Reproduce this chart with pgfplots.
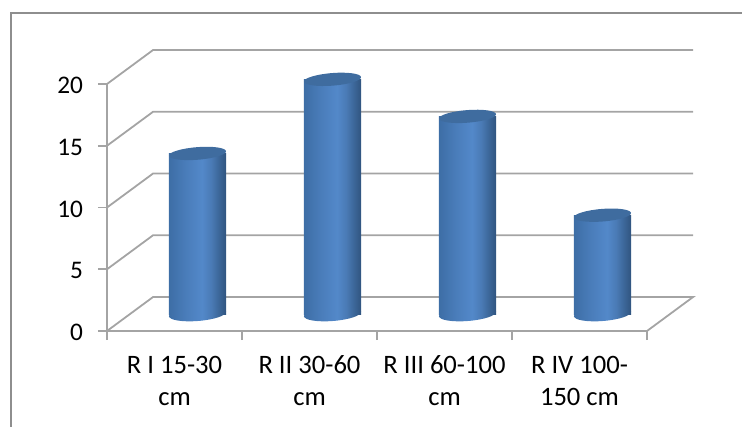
\documentclass[border=0pt]{standalone}
\usepackage{fontspec}
\setmainfont{Carlito}
\usepackage{pgfplots}
\pgfplotsset{compat=1.18}

\definecolor{gridgray}{HTML}{A4A4A4}
\definecolor{framegray}{HTML}{8E8E8E}
\definecolor{captop}{HTML}{3F6C9F}

% cylinder side: dark at both edges, light a bit right of the middle
\pgfdeclarehorizontalshading{cylside}{100bp}{
  rgb(0bp)=(0.24,0.43,0.65);
  rgb(25bp)=(0.24,0.43,0.65);
  rgb(40bp)=(0.29,0.49,0.73);
  rgb(54bp)=(0.325,0.535,0.79);
  rgb(62bp)=(0.29,0.48,0.71);
  rgb(68bp)=(0.24,0.41,0.61);
  rgb(75bp)=(0.19,0.33,0.50);
  rgb(100bp)=(0.19,0.33,0.50)}

\pgfdeclareplotmark{capbottom}{%
  \pgftransformrotate{4.5}%
  \pgfpathellipse{\pgfpointorigin}{\pgfqpoint{28.6bp}{0pt}}{\pgfqpoint{0pt}{7bp}}%
  \pgfshadepath{cylside}{0}%
  \pgfusepath{discard}}
\pgfdeclareplotmark{captop}{%
  \pgftransformrotate{4.5}%
  \pgfpathellipse{\pgfpointorigin}{\pgfqpoint{28.6bp}{0pt}}{\pgfqpoint{0pt}{6.3bp}}%
  \pgfsetfillcolor{captop}%
  \pgfusepath{fill}}

% one plot per bar, so that the shading runs across each bar by itself
\pgfplotsset{cyl/.style={ybar, bar width=57.2bp, bar shift=0pt, draw=none, shade, shading=cylside, xshift=23bp, yshift=17bp}}

\begin{document}
\begin{tikzpicture}
  \begin{axis}[
      scale only axis, width=540bp, height=247bp,
      at={(0,0)}, anchor=south west,
      xmin=0, xmax=4, ymin=0, ymax=20,
      clip=false,
      axis x line*=bottom, axis y line*=left,
      axis line style={gridgray, line width=1.8bp, -},
      tick align=outside,
      major tick length=9bp,
      tick style={gridgray, line width=1.8bp},
      xtick={0,1,2,3,4},
      xticklabels=\empty,
      extra x ticks={0.5,1.5,2.5,3.5},
      extra x tick labels={{R I 15-30\\cm},{R II 30-60\\cm},{R III 60-100\\cm},{R IV 100-\\150 cm}},
      extra x tick style={tick style={draw=none}},
      ytick={0,5,10,15,20},
      x tick label style={align=center, font=\fontsize{26.7}{32}\selectfont, yshift=-12.5bp},
      y tick label style={font=\fontsize{25.4}{31}\selectfont, xshift=-11.5bp, yshift=-1.5bp},
      /pgf/number format/assume math mode=true,
    ]

    % back wall and floor, the depth step is 0.341 in x and 2.75 in y
    \addplot[gridgray, line width=1.8bp] coordinates {(0,0) (0.341,2.75) (4.341,2.75) (4,0)};
    \addplot[gridgray, line width=1.8bp] coordinates {(0,5) (0.341,7.75) (4.341,7.75)};
    \addplot[gridgray, line width=1.8bp] coordinates {(0,10) (0.341,12.75) (4.341,12.75)};
    \addplot[gridgray, line width=1.8bp] coordinates {(0,15) (0.341,17.75) (4.341,17.75)};
    \addplot[gridgray, line width=1.8bp] coordinates {(0,20) (0.341,22.75) (4.341,22.75)};

    % cylinders stand in the middle of the depth
    \addplot[only marks, mark=capbottom, xshift=23bp, yshift=17bp]
      coordinates {(0.5,0) (1.5,0) (2.5,0) (3.5,0)};
    \addplot[cyl] coordinates {(0.5,13)};
    \addplot[cyl] coordinates {(1.5,19)};
    \addplot[cyl] coordinates {(2.5,16)};
    \addplot[cyl] coordinates {(3.5,8)};
    \addplot[only marks, mark=captop, xshift=23bp, yshift=17bp]
      coordinates {(0.5,13) (1.5,19) (2.5,16) (3.5,8)};
  \end{axis}
  \pgfresetboundingbox
  \path[use as bounding box] (-107bp,-96bp) rectangle (635bp,331bp);
  \draw[framegray, line width=2bp] (-95.5bp,-96bp) -- (-95.5bp,318bp) -- (635bp,318bp);
\end{tikzpicture}
\end{document}
